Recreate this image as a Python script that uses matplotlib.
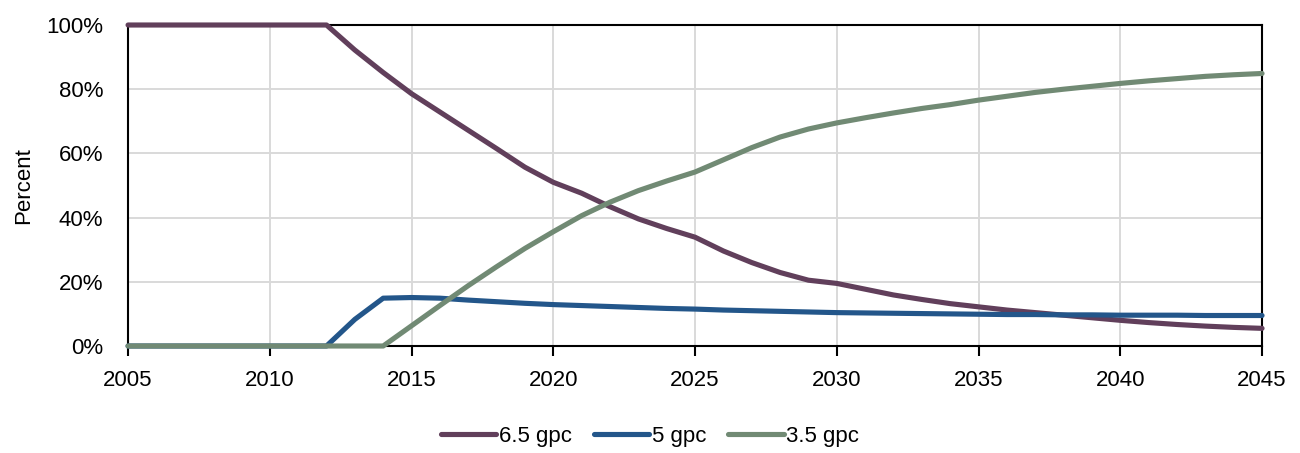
import matplotlib

matplotlib.use("Agg")
import matplotlib.pyplot as plt
from matplotlib.ticker import FuncFormatter

plt.rcParams["font.family"] = ["Liberation Sans", "DejaVu Sans"]

years = list(range(2005, 2046))

# share of vehicles by fuel economy class, percent
gpc_65 = [100] * 8 + [
    92.2, 85.2, 78.6, 72.9, 67.2, 61.5, 55.7, 51.0,
    47.6, 43.4, 39.6, 36.6, 33.9, 29.6, 26.0, 22.9, 20.5, 19.5,
    17.7, 15.9, 14.5, 13.2, 12.2, 11.2, 10.4, 9.6, 8.8, 8.0,
    7.3, 6.7, 6.2, 5.8, 5.5,
]
gpc_5 = [0] * 8 + [
    8.3, 14.9, 15.1, 14.9, 14.3, 13.8, 13.3, 12.9,
    12.6, 12.3, 12.0, 11.7, 11.5, 11.2, 11.0, 10.8, 10.6, 10.4,
    10.3, 10.2, 10.1, 10.0, 9.9, 9.8, 9.8, 9.7, 9.7, 9.6,
    9.6, 9.6, 9.5, 9.5, 9.5,
]
gpc_35 = [0] * 10 + [
    6.3, 12.6, 18.8, 24.7, 30.4, 35.6,
    40.6, 44.8, 48.4, 51.4, 54.2, 58.0, 61.8, 65.1, 67.6, 69.5,
    71.1, 72.6, 74.0, 75.2, 76.6, 77.8, 79.0, 80.0, 80.9, 81.8,
    82.6, 83.3, 84.0, 84.5, 84.9,
]

series = [
    ("6.5 gpc", gpc_65, "#613F5B"),
    ("5 gpc", gpc_5, "#23568A"),
    ("3.5 gpc", gpc_35, "#718A74"),
]

fig = plt.figure(figsize=(13, 4.53), dpi=100)
ax = fig.add_axes([0.0985, 0.2362, 0.8723, 0.7086])

for label, values, color in series:
    ax.plot(years, values, color=color, lw=3.7, label=label,
            solid_capstyle="round", clip_on=False, zorder=3)

ax.set_xlim(2005, 2045)
ax.set_ylim(0, 100)
ax.set_xticks(range(2005, 2046, 5))
ax.set_yticks(range(0, 101, 20))
ax.yaxis.set_major_formatter(FuncFormatter(lambda v, _: f"{v:.0f}%"))
ax.grid(color="#d9d9d9", lw=1.4)
ax.set_axisbelow(True)
for spine in ax.spines.values():
    spine.set_color("black")
    spine.set_linewidth(1.5)
    spine.set_zorder(2.5)
ax.tick_params(axis="x", direction="out", length=7, width=1.5, labelsize=16, pad=10)
ax.tick_params(axis="y", length=0, labelsize=16, pad=18)
ax.set_ylabel("Percent", fontsize=16)
ax.yaxis.set_label_coords(-0.083, 0.5)

fig.legend(
    loc="lower center",
    bbox_to_anchor=(0.5, -0.03),
    ncol=3,
    frameon=False,
    fontsize=16,
    handlelength=2.5,
    handletextpad=0.1,
    columnspacing=1.0,
)

fig.savefig("out.png", dpi=100)
